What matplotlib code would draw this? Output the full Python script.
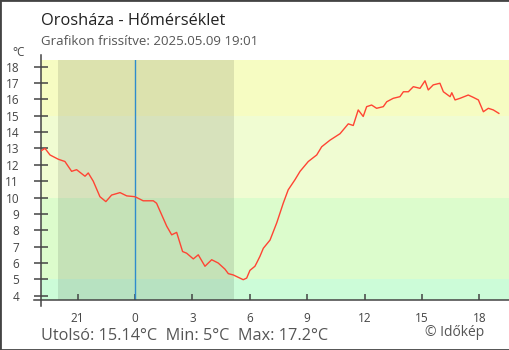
import matplotlib
matplotlib.use("Agg")
import matplotlib.pyplot as plt
from matplotlib.patches import Rectangle

plt.rcParams['font.family'] = ['Open Sans', 'DejaVu Sans']

# hours relative to midnight (negative = previous evening)
hours = [-4.91, -4.70, -4.44, -4.01, -3.66, -3.31, -3.05, -2.61, -2.44, -2.18,
         -1.83, -1.52, -1.22, -0.78, -0.43, 0.0, 0.43, 0.96, 1.13, 1.66,
         1.92, 2.18, 2.49, 2.70, 3.05, 3.31, 3.66, 4.01, 4.35, 4.70,
         4.88, 5.14, 5.66, 5.84, 6.01, 6.27, 6.36, 6.53, 6.71, 7.06,
         7.41, 7.75, 8.01, 8.36, 8.63, 9.06, 9.50, 9.76, 10.19, 10.72,
         11.15, 11.41, 11.67, 11.93, 12.11, 12.37, 12.63, 12.98, 13.16, 13.50,
         13.85, 14.03, 14.29, 14.55, 14.90, 15.16, 15.33, 15.59, 15.94, 16.12,
         16.47, 16.56, 16.73, 16.99, 17.42, 17.68, 17.95, 18.21, 18.47, 18.73,
         19.02]
temps = [12.85, 13.0, 12.6, 12.34, 12.2, 11.6, 11.7, 11.3, 11.5, 11.0,
         10.05, 9.75, 10.15, 10.3, 10.1, 10.05, 9.8, 9.8, 9.65, 8.25,
         7.72, 7.87, 6.7, 6.6, 6.25, 6.5, 5.8, 6.2, 6.0, 5.63,
         5.35, 5.27, 4.98, 5.08, 5.55, 5.8, 6.0, 6.4, 6.9, 7.4,
         8.45, 9.65, 10.47, 11.08, 11.6, 12.2, 12.6, 13.1, 13.5, 13.9,
         14.5, 14.4, 15.35, 14.95, 15.55, 15.65, 15.45, 15.55, 15.85, 16.06,
         16.16, 16.46, 16.46, 16.77, 16.67, 17.13, 16.57, 16.88, 16.98, 16.46,
         16.16, 16.4, 15.96, 16.06, 16.26, 16.12, 15.96, 15.24, 15.45, 15.35,
         15.14]

xtick_pos = [-3, 0, 3, 6, 9, 12, 15, 18]
xtick_labels = ['21', '0', '3', '6', '9', '12', '15', '18']
yticks = list(range(4, 19))

bands = [(3.0, 5, '#ccfcd8'), (5, 10, '#dcfccc'), (10, 15, '#f0fcd2'), (15, 19.0, '#f6fcc2')]
sunset, sunrise = -4.03, 5.17

fig = plt.figure(figsize=(5.1, 3.5), dpi=100)
ax = fig.add_axes([41/510, 50/350, 468/510, 240/350])

for lo, hi, c in bands:
    ax.axhspan(lo, hi, color=c, lw=0, zorder=0)
ax.axvspan(sunset, sunrise, color='black', alpha=0.1, lw=0, zorder=1)
ax.axvline(0, color='#2f8ccc', lw=1.0, zorder=2)
ax.plot(hours, temps, color='#ff4433', lw=1.0, zorder=3)

ax.set_xlim(-4.91, 19.55)
ax.set_ylim(3.74, 18.40)

for s in ax.spines.values():
    s.set_visible(False)
ax.plot([0, 0], [-0.025, 1.021], transform=ax.transAxes, color='#444444', lw=1.1, clip_on=False)
ax.plot([-0.015, 1], [0, 0], transform=ax.transAxes, color='#444444', lw=1.1, clip_on=False)

ax.set_yticks(yticks)
ax.set_xticks(xtick_pos)
ax.set_xticklabels(xtick_labels)
ax.tick_params(axis='y', direction='inout', length=9.5, width=1.1, color='#444444',
               labelsize=8.5, labelcolor='#444444', pad=11)
ax.tick_params(axis='x', direction='in', length=4.3, width=1.1, color='#444444',
               labelsize=8.5, labelcolor='#444444', pad=9)

fig.text(41/510, 1 - 25/350, 'Orosháza - Hőmérséklet', fontsize=11.8, color='#222222', va='baseline')
fig.text(41/510, 1 - 45/350, 'Grafikon frissítve: 2025.05.09 19:01', fontsize=9.5, color='#555555', va='baseline')
fig.text(12/510, 1 - 53/350, '°C', fontsize=8.5, color='#444444', va='center')
fig.text(41/510, 1 - 340/350, 'Utolsó: 15.14°C  Min: 5°C  Max: 17.2°C', fontsize=11.7, color='#555555', va='baseline')
fig.text(425/510, 1 - 336/350, '© Időkép', fontsize=10, color='#555555', va='baseline')

fig.add_artist(Rectangle((0, 0), 1, 1, transform=fig.transFigure, fill=False,
                         edgecolor='#444444', lw=2))

fig.savefig('out.png', dpi=100)
